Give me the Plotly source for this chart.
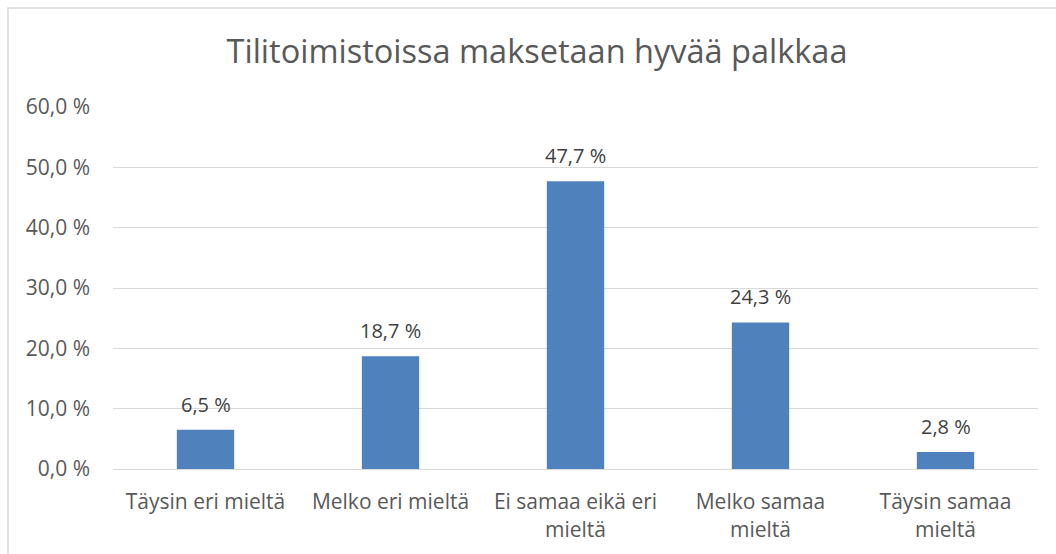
import plotly.graph_objects as go

categories = ["Täysin eri mieltä", "Melko eri mieltä", "Ei samaa eikä eri<br>mieltä",
              "Melko samaa<br>mieltä", "Täysin samaa<br>mieltä"]
values = [6.5, 18.7, 47.7, 24.3, 2.8]
y_tickvals = [0, 10, 20, 30, 40, 50, 60]
y_ticktext = ["0,0 %", "10,0 %", "20,0 %", "30,0 %", "40,0 %", "50,0 %", "60,0 %"]
title = "Tilitoimistoissa maksetaan hyvää palkkaa"

FONT = "Open Sans"
W, H = 1056, 554
L, R, T, B = 113, 18, 107, 85
pw, ph = W - L - R, H - T - B

def fmt(v):
    return f"{v:.1f}".replace(".", ",") + " %"

fig = go.Figure()
fig.add_trace(go.Bar(
    x=categories, y=values, marker=dict(color="#4F81BD", line=dict(width=0)),
    width=0.31, hoverinfo="skip",
))

for c, v in zip(categories, values):
    fig.add_annotation(x=c, y=v, text=fmt(v), showarrow=False, yanchor="bottom",
                       yshift=10, font=dict(family=FONT, size=20, color="#404040"))

# outer chart border
fig.add_shape(type="rect", xref="paper", yref="paper",
              x0=(8 - L) / pw, x1=(W + 5 - L) / pw,
              y0=-(B + 5) / ph, y1=(H - B - 8) / ph,
              line=dict(color="#D9D9D9", width=1.5), fillcolor="rgba(0,0,0,0)", layer="below")

fig.update_layout(
    width=W, height=H,
    margin=dict(l=L, r=R, t=T, b=B),
    paper_bgcolor="white", plot_bgcolor="white",
    title=dict(text=title, xref="container", x=537 / W, xanchor="center",
               y=1 - 52 / H, yanchor="middle",
               font=dict(family=FONT, size=32.5, color="#595959")),
    showlegend=False,
    bargap=0.69,
    xaxis=dict(showgrid=False, showline=True, linecolor="#D9D9D9", linewidth=1,
               ticks="", tickfont=dict(family=FONT, size=21, color="#595959"),
               ticklabelstandoff=14, fixedrange=True),
    yaxis=dict(range=[0, 60], tickvals=y_tickvals, ticktext=y_ticktext,
               showgrid=True, gridcolor="#D9D9D9", gridwidth=1, zeroline=False,
               showline=False, ticks="", ticklabelstandoff=22,
               tickfont=dict(family=FONT, size=21, color="#595959"), fixedrange=True),
)

fig.write_html("out.html", config={"displayModeBar": False},
               post_script="document.body.style.margin='0';")
